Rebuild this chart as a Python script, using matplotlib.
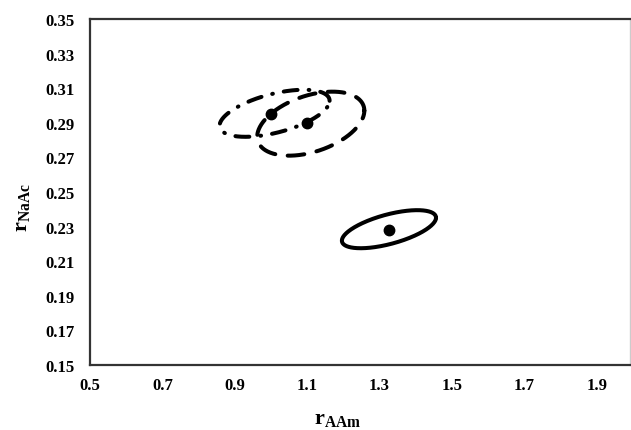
import numpy as np
import matplotlib
matplotlib.use("Agg")
import matplotlib.pyplot as plt

plt.rcParams["font.family"] = ["Liberation Serif", "DejaVu Serif"]
plt.rcParams["font.weight"] = "bold"
plt.rcParams["mathtext.fontset"] = "custom"
plt.rcParams["mathtext.rm"] = "Liberation Serif:bold"
plt.rcParams["mathtext.bf"] = "Liberation Serif:bold"
plt.rcParams["mathtext.it"] = "Liberation Serif:bold"
plt.rcParams["lines.scale_dashes"] = False

# Reactivity ratio estimates (r_AAm, r_NaAc) for three methods
point_x = [1.00, 1.10, 1.326]
point_y = [0.295, 0.290, 0.228]

# Joint confidence regions: centre, half-extent in x and y, phase (tilt)
ell_cx = [1.01, 1.11, 1.326]
ell_cy = [0.2955, 0.2895, 0.2285]
ell_rx = [0.152, 0.148, 0.130]
ell_ry = [0.0136, 0.0185, 0.0110]
ell_phase_deg = [58, 66, 53]
ell_style = ["dashdot", "dashed", "solid"]

x_ticks = [0.5, 0.7, 0.9, 1.1, 1.3, 1.5, 1.7, 1.9]
y_ticks = [0.15, 0.17, 0.19, 0.21, 0.23, 0.25, 0.27, 0.29, 0.31, 0.33, 0.35]

fig = plt.figure(figsize=(6.31, 4.31), dpi=100)
ax = fig.add_axes([90 / 631, 1 - 366 / 431, 540 / 631, 346 / 431])

t = np.linspace(0, 2 * np.pi, 400)
for cx, cy, rx, ry, ph, st in zip(ell_cx, ell_cy, ell_rx, ell_ry,
                                   ell_phase_deg, ell_style):
    ex = cx + rx * np.cos(t)
    ey = cy + ry * np.cos(t - np.deg2rad(ph))
    line, = ax.plot(ex, ey, color="black", lw=2.9,
                    solid_capstyle="round", dash_capstyle="round")
    if st == "dashed":
        line.set_linestyle((0, (12, 9)))
    elif st == "dashdot":
        line.set_linestyle((0, (10, 8, 0.5, 8)))

ax.plot(point_x, point_y, "o", color="black", markersize=7.5)

ax.set_xlim(0.5, 1.992)
ax.set_ylim(0.15, 0.35)
ax.set_xticks(x_ticks)
ax.set_yticks(y_ticks)
ax.set_xticklabels([f"{v:.1f}" for v in x_ticks])
ax.set_yticklabels([f"{v:.2f}" for v in y_ticks])
ax.tick_params(axis="both", length=0, labelsize=12)
ax.tick_params(axis="y", pad=11)
ax.tick_params(axis="x", pad=9)

for side in ["top", "left", "bottom"]:
    ax.spines[side].set_linewidth(1.6)
    ax.spines[side].set_color("#333333")
ax.spines["right"].set_linewidth(1.0)
ax.spines["right"].set_color("#cccccc")

ax.set_xlabel(r"$\mathrm{r}_{\mathrm{AAm}}$", fontsize=16)
ax.set_ylabel(r"$\mathrm{r}_{\mathrm{NaAc}}$", fontsize=16)
ax.xaxis.set_label_coords(0.459, -0.128)
ax.yaxis.set_label_coords(-0.108, 0.457)

fig.savefig("out.png", dpi=100)
